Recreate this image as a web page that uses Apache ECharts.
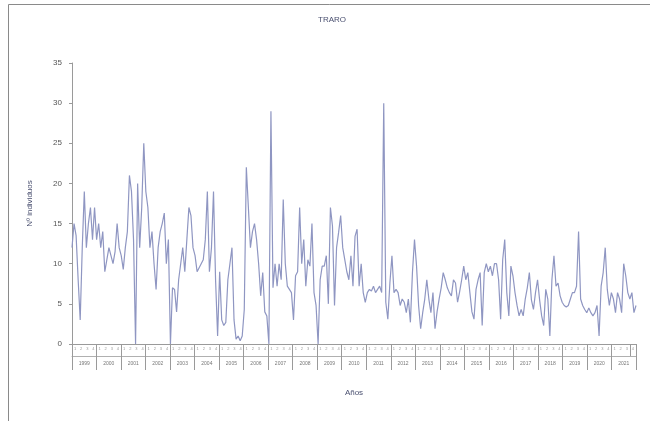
<!DOCTYPE html>
<html>
<head>
<meta charset="utf-8">
<script src="https://cdn.jsdelivr.net/npm/echarts@6/dist/echarts.min.js"></script>
<style>html,body{margin:0;padding:0;background:#fff}#c{width:650px;height:421px}</style>
</head>
<body>
<div id="c"></div>
<script>
const years = ['1999','2000','2001','2002','2003','2004','2005','2006','2007','2008','2009','2010','2011','2012','2013','2014','2015','2016','2017','2018','2019','2020','2021'];
const quarterLabels = ['1','2','3','4'];
const counts = [
 12,15,13.5,8,3,12,19,12,15,17,13,17,
 13,15,12,14,9,10.5,12,11,10,11.5,15,12,
 11,9.3,12,14,21,19,13,0,20,12,17,25,
 19,17,12,14,10,6.8,12,14,15,16.3,10,13,
 0,7,6.8,4,8,10,12,9,13,17,16,12,
 11,9,9.5,10,10.5,13,19,9,12,19,8,1,
 9,3,2.3,2.7,8,10,12,3,0.6,1,0.4,1,
 4.3,22,17,12,14,15,13,10,6,8.9,4,3.5,
 0,29,7,10,7.2,10,8,18,10,7.2,6.8,6.4,
 3,8.5,9,17,10,13,7.2,10.5,9.7,15,6.4,4.8,
 0,8,9.7,9.7,11,5,17,14.7,4.8,12,13.9,16,
 12,10.5,9,8,11,7.2,13.4,14.3,7.2,10,6.4,5.2,
 6.4,6.8,6.6,7.2,6.4,6.8,7.2,6.4,30,5.2,3.1,7.6,
 11,6.4,6.8,6.4,4.8,5.6,5.2,3.9,5.6,2.7,8.9,13,
 9.7,4.8,1.9,3.9,5.6,8,5.6,3.9,6.4,1.9,4,5.6,
 7,8.9,8,7,6.4,6,8,7.6,5.2,6.5,8,9.7,
 8,8.9,6.4,4,3.1,6.8,8,8.9,2.3,8.9,10,9,
 9.7,8.5,10,10,8,3.1,10.5,13,6.4,3.5,9.7,8.5,
 6.4,4.8,3.5,4.3,3.5,5.6,7,8.9,5.5,4.3,6.4,8,
 5.5,3.5,2.3,6.8,5.6,1,8,11,7.2,7.6,6,5.2,
 4.8,4.6,4.8,5.6,6.4,6.4,7.2,14,5.6,4.8,4.3,3.9,
 4.5,3.9,3.5,3.9,4.8,1,7.2,8.9,12,6.8,4.8,6.4,
 5.6,3.9,6.4,5.6,3.9,10,8.5,6.4,5.6,6.4,3.9,4.8
];
const months = counts.map((_, i) => years[Math.floor(i / 12)] + '-' + (i % 12 + 1));
const quarters = [];
years.forEach(y => quarterLabels.forEach(q => quarters.push(q)));

const font = 'Liberation Sans, Arial, sans-serif';
const chart = echarts.init(document.getElementById('c'), null, {renderer: 'canvas'});
chart.setOption({
  animation: false,
  backgroundColor: '#fff',
  title: {
    text: 'TRARO', left: 327, top: 11, textAlign: 'center',
    textStyle: {fontSize: 8, fontWeight: 'normal', color: '#4a5070', fontFamily: font}
  },
  graphic: [{
    type: 'rect', shape: {x: 8.5, y: 4.5, width: 700, height: 500},
    style: {fill: 'none', stroke: '#8a8a8a', lineWidth: 1}, silent: true
  }],
  grid: {left: 72, right: 14, top: 63, bottom: 77},
  xAxis: [
    {
      type: 'category', data: months, boundaryGap: false,
      axisLine: {lineStyle: {color: '#9a9a9a', width: 1}},
      axisTick: {show: false}, axisLabel: {show: false}
    },
    {
      type: 'category', data: quarters, position: 'bottom', boundaryGap: true,
      axisLine: {show: false},
      axisTick: {show: true, interval: 3, length: 12, lineStyle: {color: '#9a9a9a'}},
      axisLabel: {show: true, interval: 0, fontSize: 4, color: '#9a9a9a', margin: 3, fontFamily: font}
    },
    {
      type: 'category', data: years, position: 'bottom', offset: 12, boundaryGap: true,
      name: 'Años', nameLocation: 'middle', nameGap: 33,
      nameTextStyle: {fontSize: 8, color: '#4a5070', fontFamily: font},
      axisLine: {show: true, lineStyle: {color: '#b0b0b0', width: 1}},
      axisTick: {show: true, interval: 0, length: 14, lineStyle: {color: '#9a9a9a'}},
      axisLabel: {show: true, interval: 0, fontSize: 5, color: '#777', margin: 5, fontFamily: font}
    }
  ],
  yAxis: {
    type: 'value', min: 0, max: 35, interval: 5,
    name: 'Nº individuos', nameLocation: 'middle', nameGap: 38, nameRotate: 90,
    nameTextStyle: {fontSize: 8, color: '#4a5070', fontFamily: font},
    axisLine: {show: true, lineStyle: {color: '#9a9a9a', width: 1}},
    axisTick: {show: true, length: 3, inside: false, lineStyle: {color: '#9a9a9a'}},
    axisLabel: {fontSize: 8, color: '#555', margin: 10, fontFamily: font},
    splitLine: {show: false}
  },
  series: [{
    type: 'line', xAxisIndex: 0, data: counts, showSymbol: false, symbol: 'none',
    lineStyle: {color: '#8f96c2', width: 1.2}
  }]
});
</script>
</body>
</html>
